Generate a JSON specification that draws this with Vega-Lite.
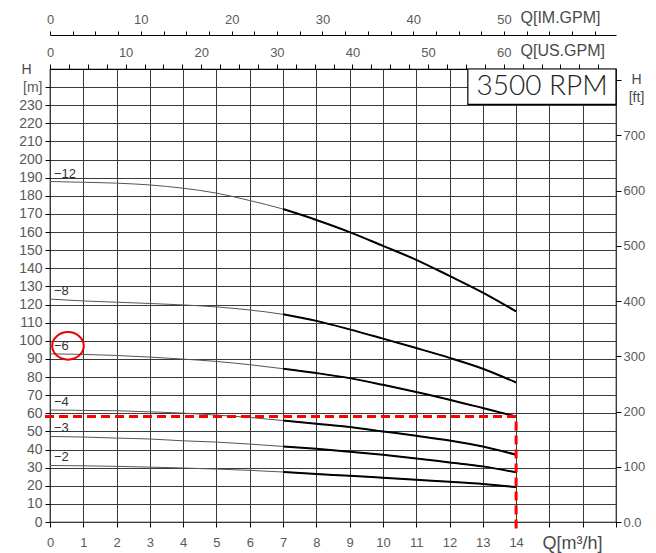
{
  "$schema": "https://vega.github.io/schema/vega-lite/v6.json",
  "width": 566,
  "height": 453,
  "autosize": {"type": "none"},
  "padding": {"left": 50, "top": 69, "right": 40, "bottom": 31},
  "background": "white",
  "config": {
    "view": {"stroke": "#000", "strokeWidth": 1.2},
    "axis": {
      "labelFont": "Liberation Sans",
      "labelColor": "#5a5a5a",
      "labelFontSize": 13,
      "titleFont": "Liberation Sans",
      "titleColor": "#4a4a4a",
      "titleFontWeight": "normal",
      "tickColor": "#000",
      "domainColor": "#000",
      "gridColor": "#3a3a3a",
      "gridOpacity": 1,
      "gridWidth": 1,
      "labelFlush": false,
      "labelOverlap": false
    }
  },
  "datasets": {
    "curves": [
      {"pump": "−12", "Q": 0, "H": 187.9}, {"pump": "−12", "Q": 1, "H": 187.5}, {"pump": "−12", "Q": 2, "H": 187.0}, {"pump": "−12", "Q": 3, "H": 186.0}, {"pump": "−12", "Q": 4, "H": 184.2}, {"pump": "−12", "Q": 5, "H": 181.5}, {"pump": "−12", "Q": 6, "H": 177.4}, {"pump": "−12", "Q": 7, "H": 172.7}, {"pump": "−12", "Q": 8, "H": 166.7}, {"pump": "−12", "Q": 9, "H": 160.0}, {"pump": "−12", "Q": 10, "H": 152.4}, {"pump": "−12", "Q": 11, "H": 144.7}, {"pump": "−12", "Q": 12, "H": 135.8}, {"pump": "−12", "Q": 13, "H": 126.6}, {"pump": "−12", "Q": 14, "H": 116.2},
      {"pump": "−8", "Q": 0, "H": 123.0}, {"pump": "−8", "Q": 1, "H": 122.0}, {"pump": "−8", "Q": 2, "H": 121.3}, {"pump": "−8", "Q": 3, "H": 120.6}, {"pump": "−8", "Q": 4, "H": 119.8}, {"pump": "−8", "Q": 5, "H": 118.7}, {"pump": "−8", "Q": 6, "H": 117.0}, {"pump": "−8", "Q": 7, "H": 114.6}, {"pump": "−8", "Q": 8, "H": 111.0}, {"pump": "−8", "Q": 9, "H": 106.3}, {"pump": "−8", "Q": 10, "H": 101.2}, {"pump": "−8", "Q": 11, "H": 96.0}, {"pump": "−8", "Q": 12, "H": 90.6}, {"pump": "−8", "Q": 13, "H": 84.6}, {"pump": "−8", "Q": 14, "H": 77.0},
      {"pump": "−6", "Q": 0, "H": 92.8}, {"pump": "−6", "Q": 1, "H": 92.5}, {"pump": "−6", "Q": 2, "H": 91.9}, {"pump": "−6", "Q": 3, "H": 91.0}, {"pump": "−6", "Q": 4, "H": 89.9}, {"pump": "−6", "Q": 5, "H": 88.6}, {"pump": "−6", "Q": 6, "H": 86.8}, {"pump": "−6", "Q": 7, "H": 84.6}, {"pump": "−6", "Q": 8, "H": 82.2}, {"pump": "−6", "Q": 9, "H": 79.4}, {"pump": "−6", "Q": 10, "H": 75.7}, {"pump": "−6", "Q": 11, "H": 71.7}, {"pump": "−6", "Q": 12, "H": 67.5}, {"pump": "−6", "Q": 13, "H": 62.9}, {"pump": "−6", "Q": 14, "H": 58.2},
      {"pump": "−4", "Q": 0, "H": 61.8}, {"pump": "−4", "Q": 1, "H": 61.6}, {"pump": "−4", "Q": 2, "H": 61.4}, {"pump": "−4", "Q": 3, "H": 60.8}, {"pump": "−4", "Q": 4, "H": 60.1}, {"pump": "−4", "Q": 5, "H": 59.0}, {"pump": "−4", "Q": 6, "H": 57.7}, {"pump": "−4", "Q": 7, "H": 56.0}, {"pump": "−4", "Q": 8, "H": 54.2}, {"pump": "−4", "Q": 9, "H": 52.4}, {"pump": "−4", "Q": 10, "H": 50.0}, {"pump": "−4", "Q": 11, "H": 47.6}, {"pump": "−4", "Q": 12, "H": 45.0}, {"pump": "−4", "Q": 13, "H": 41.7}, {"pump": "−4", "Q": 14, "H": 37.1},
      {"pump": "−3", "Q": 0, "H": 47.2}, {"pump": "−3", "Q": 1, "H": 46.9}, {"pump": "−3", "Q": 2, "H": 46.3}, {"pump": "−3", "Q": 3, "H": 45.8}, {"pump": "−3", "Q": 4, "H": 44.8}, {"pump": "−3", "Q": 5, "H": 44.1}, {"pump": "−3", "Q": 6, "H": 43.0}, {"pump": "−3", "Q": 7, "H": 41.7}, {"pump": "−3", "Q": 8, "H": 40.4}, {"pump": "−3", "Q": 9, "H": 38.8}, {"pump": "−3", "Q": 10, "H": 37.1}, {"pump": "−3", "Q": 11, "H": 35.1}, {"pump": "−3", "Q": 12, "H": 32.9}, {"pump": "−3", "Q": 13, "H": 30.7}, {"pump": "−3", "Q": 14, "H": 27.4},
      {"pump": "−2", "Q": 0, "H": 31.2}, {"pump": "−2", "Q": 1, "H": 31.0}, {"pump": "−2", "Q": 2, "H": 30.7}, {"pump": "−2", "Q": 3, "H": 30.3}, {"pump": "−2", "Q": 4, "H": 29.8}, {"pump": "−2", "Q": 5, "H": 29.2}, {"pump": "−2", "Q": 6, "H": 28.5}, {"pump": "−2", "Q": 7, "H": 27.6}, {"pump": "−2", "Q": 8, "H": 26.5}, {"pump": "−2", "Q": 9, "H": 25.5}, {"pump": "−2", "Q": 10, "H": 24.4}, {"pump": "−2", "Q": 11, "H": 23.3}, {"pump": "−2", "Q": 12, "H": 22.2}, {"pump": "−2", "Q": 13, "H": 21.0}, {"pump": "−2", "Q": 14, "H": 19.3}
    ],
    "duty": [
      {"Q": -0.15, "H": 58.2},
      {"Q": 14, "H": 58.2},
      {"Q": 14, "H": -4.5}
    ],
    "highlight": [{"Q": 0.54, "H": 97.2}],
    "rpm": [{"label": "3500  RPM", "Q1": 12.55, "Q2": 17, "H1": 230.5, "H2": 250, "Qt": 14.78, "Ht": 240}]
  },
  "resolve": {"axis": {"x": "independent", "y": "independent"}},
  "layer": [
    {
      "data": {"name": "curves"},
      "mark": {"type": "line", "interpolate": "monotone", "color": "#555", "strokeWidth": 1},
      "encoding": {
        "detail": {"field": "pump"},
        "x": {
          "field": "Q", "type": "quantitative",
          "scale": {"domain": [0, 17], "nice": false, "zero": false},
          "axis": {
            "orient": "bottom",
            "values": [0,1,2,3,4,5,6,7,8,9,10,11,12,13,14,15,16,17],
            "labelExpr": "datum.value <= 14 ? datum.label : ''",
            "grid": true, "domain": false, "tickSize": 5, "labelPadding": 9,
            "title": "Q[m³/h]", "titleX": 492, "titleY": 21, "titleAlign": "left",
            "titleBaseline": "middle", "titleFontSize": 18
          }
        },
        "y": {
          "field": "H", "type": "quantitative",
          "scale": {"domain": [0, 250], "nice": false, "zero": false},
          "axis": {
            "orient": "left",
            "values": [0,10,20,30,40,50,60,70,80,90,100,110,120,130,140,150,160,170,180,190,200,210,220,230,240],
            "labelExpr": "datum.value == 240 ? '[m]' : datum.label",
            "grid": true, "domain": false, "tickSize": 5, "labelPadding": 3, "labelFontSize": 14,
            "title": "H", "titleAngle": 0, "titleX": -24, "titleY": 0, "titleAlign": "center",
            "titleBaseline": "middle", "titleFontSize": 14
          }
        }
      }
    },
    {
      "data": {"name": "curves"},
      "transform": [{"filter": "datum.Q >= 7"}],
      "mark": {"type": "line", "interpolate": "monotone", "color": "#000", "strokeWidth": 2},
      "encoding": {
        "detail": {"field": "pump"},
        "x": {
          "field": "Q", "type": "quantitative",
          "scale": {"domain": [0, 17], "nice": false, "zero": false},
          "axis": {
            "orient": "top",
            "values": [0, 0.5678, 1.1356, 1.7034, 2.2713, 2.8391, 3.4069, 3.9747, 4.5425, 5.1103, 5.6781, 6.2459, 6.8138, 7.3816, 7.9494, 8.5172, 9.085, 9.6528, 10.2206, 10.7884, 11.3563, 11.9241, 12.4919, 13.0597, 13.6275, 14.1953, 14.7631, 15.3309, 15.8988, 16.4666],
            "labelExpr": "(round(datum.value / 0.227125) % 10 == 0 && datum.value < 14) ? format(round(datum.value / 0.227125), 'd') : ''",
            "grid": false, "domain": false, "tickSize": 5, "labelPadding": 5,
            "title": "Q[US.GPM]", "titleX": 470, "titleY": -19, "titleAlign": "left",
            "titleBaseline": "middle", "titleFontSize": 16
          }
        },
        "y": {
          "field": "H", "type": "quantitative",
          "scale": {"domain": [0, 250], "nice": false, "zero": false},
          "axis": {
            "orient": "right",
            "values": [0, 30.48, 60.96, 91.44, 121.92, 152.4, 182.88, 213.36, 243.84],
            "labelExpr": "datum.value > 240 ? '' : datum.value == 0 ? '0.0' : format(round(datum.value / 0.3048), 'd')",
            "grid": false, "domain": false, "tickSize": 5, "labelPadding": 2,
            "title": ["H", "[ft]"], "titleAngle": 0, "titleX": 20, "titleY": 3, "titleAlign": "center",
            "titleBaseline": "top", "titleFontSize": 14, "titleLineHeight": 18
          }
        }
      }
    },
    {
      "data": {"name": "duty"},
      "mark": {"type": "line", "color": "#f00", "strokeWidth": 3, "strokeDash": [9, 5]},
      "encoding": {
        "order": {"value": null},
        "x": {
          "field": "Q", "type": "quantitative",
          "scale": {"domain": [0, 17], "nice": false, "zero": false},
          "axis": {
            "orient": "top", "offset": 34,
            "values": [0, 0.6819, 1.3638, 2.0457, 2.7277, 3.4096, 4.0915, 4.7734, 5.4553, 6.1372, 6.8191, 7.501, 8.1829, 8.8649, 9.5468, 10.2287, 10.9106, 11.5925, 12.2744, 12.9563, 13.6382, 14.3202, 15.0021, 15.684, 16.3659],
            "labelExpr": "(round(datum.value / 0.272765) % 10 == 0 && datum.value < 14) ? format(round(datum.value / 0.272765), 'd') : ''",
            "grid": false, "domain": true, "domainWidth": 1.2, "tickSize": 4, "labelPadding": 5,
            "title": "Q[IM.GPM]", "titleX": 470, "titleY": -18, "titleAlign": "left",
            "titleBaseline": "middle", "titleFontSize": 16
          }
        },
        "y": {
          "field": "H", "type": "quantitative",
          "scale": {"domain": [0, 250], "nice": false, "zero": false},
          "axis": null
        }
      }
    },
    {
      "data": {"name": "curves"},
      "transform": [{"filter": "datum.Q == 0"}],
      "mark": {"type": "text", "align": "left", "baseline": "middle", "dx": 4, "dy": -8, "fontSize": 13, "font": "Liberation Sans", "color": "#333"},
      "encoding": {
        "text": {"field": "pump"},
        "x": {"field": "Q", "type": "quantitative", "scale": {"domain": [0, 17], "nice": false, "zero": false}, "axis": null},
        "y": {"field": "H", "type": "quantitative", "scale": {"domain": [0, 250], "nice": false, "zero": false}, "axis": null}
      }
    },
    {
      "data": {"name": "highlight"},
      "mark": {"type": "point", "shape": "M-1,0A1,0.87,0,1,0,1,0A1,0.87,0,1,0,-1,0Z", "size": 1000, "filled": false, "stroke": "#e00", "strokeWidth": 2, "opacity": 1},
      "encoding": {
        "x": {"field": "Q", "type": "quantitative", "scale": {"domain": [0, 17], "nice": false, "zero": false}, "axis": null},
        "y": {"field": "H", "type": "quantitative", "scale": {"domain": [0, 250], "nice": false, "zero": false}, "axis": null}
      }
    },
    {
      "data": {"name": "rpm"},
      "mark": {"type": "rect", "fill": "white", "stroke": "#000", "strokeWidth": 1.2},
      "encoding": {
        "x": {"field": "Q1", "type": "quantitative", "scale": {"domain": [0, 17], "nice": false, "zero": false}, "axis": null},
        "x2": {"field": "Q2"},
        "y": {"field": "H1", "type": "quantitative", "scale": {"domain": [0, 250], "nice": false, "zero": false}, "axis": null},
        "y2": {"field": "H2"}
      }
    },
    {
      "data": {"name": "rpm"},
      "mark": {"type": "text", "align": "center", "baseline": "middle", "fontSize": 28, "font": "Lato", "fontWeight": 300, "color": "#222"},
      "encoding": {
        "text": {"field": "label"},
        "x": {"field": "Qt", "type": "quantitative", "scale": {"domain": [0, 17], "nice": false, "zero": false}, "axis": null},
        "y": {"field": "Ht", "type": "quantitative", "scale": {"domain": [0, 250], "nice": false, "zero": false}, "axis": null}
      }
    }
  ]
}
